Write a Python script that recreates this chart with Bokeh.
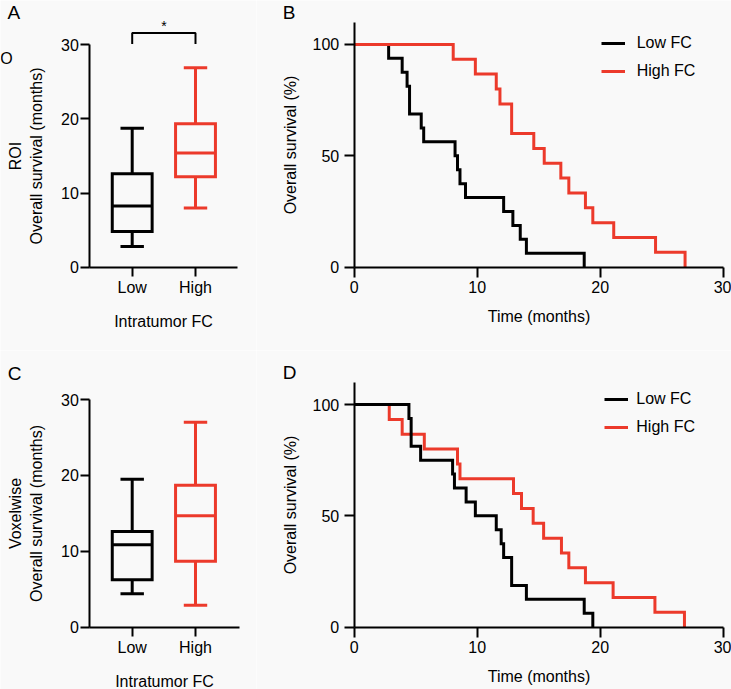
from bokeh.plotting import figure
from bokeh.models import Range1d, FixedTicker, Label, Legend, LegendItem
from bokeh.layouts import row, column
from bokeh.embed import file_html
from bokeh.resources import INLINE

FONT = "Liberation Sans"
BG = "#F9F9F9"
RED = "#EC3A2B"
BLACK = "#000000"

# ---------------- Box plot data (months) ----------------
groups = ["Low", "High"]
group_pos = [1, 2]
roi_min = [2.8, 8.0]
roi_q1 = [4.8, 12.2]
roi_median = [8.25, 15.4]
roi_q3 = [12.6, 19.35]
roi_max = [18.75, 26.9]

vox_min = [4.4, 2.9]
vox_q1 = [6.25, 8.7]
vox_median = [10.85, 14.7]
vox_q3 = [12.6, 18.7]
vox_max = [19.5, 27.0]
box_yticks = [0, 10, 20, 30]

# ---------------- Kaplan-Meier data ----------------
roi_low_time = [0, 2.8, 3.9, 4.3, 4.5, 5.45, 5.65, 8.2, 8.4, 8.6, 9.05, 12.15, 12.9, 13.5, 14.0, 18.7]
roi_low_surv = [100, 93.75, 87.5, 81.25, 68.75, 62.5, 56.25, 50, 43.75, 37.5, 31.25, 25, 18.75, 12.5, 6.25, 0]
roi_high_time = [0, 8.05, 9.85, 11.55, 11.85, 12.8, 14.6, 15.45, 16.8, 17.45, 18.8, 19.4, 21.1, 24.5, 26.9]
roi_high_surv = [100, 93.3, 86.7, 80, 73.3, 60, 53.3, 46.7, 40, 33.3, 26.7, 20, 13.3, 6.7, 0]

vox_low_time = [0, 4.45, 4.63, 5.4, 8.0, 8.15, 9.1, 9.85, 11.55, 11.95, 12.15, 12.8, 14.0, 18.7, 19.4]
vox_low_surv = [100, 93.75, 81.25, 75, 68.75, 62.5, 56.25, 50, 43.75, 37.5, 31.25, 18.75, 12.5, 6.25, 0]
vox_high_time = [0, 2.85, 3.9, 5.7, 8.4, 8.6, 12.95, 13.6, 14.55, 15.4, 16.85, 17.45, 18.8, 21.05, 24.45, 26.85]
vox_high_surv = [100, 93.3, 86.7, 80, 73.3, 66.7, 60, 53.3, 46.7, 40, 33.3, 26.7, 20, 13.3, 6.7, 0]

km_xticks = [0, 10, 20, 30]
km_yticks = [0, 50, 100]
legend_labels = ["Low FC", "High FC"]


def style(p, xlabel, ylabel, tick_out, xstand, ystand, xlab_stand, ylab_stand):
    p.background_fill_color = BG
    p.border_fill_color = BG
    p.outline_line_color = None
    p.xgrid.visible = False
    p.ygrid.visible = False
    for ax in (p.xaxis[0], p.yaxis[0]):
        ax.axis_line_width = 2
        ax.axis_line_color = BLACK
        ax.major_tick_line_width = 2
        ax.major_tick_line_color = BLACK
        ax.major_tick_out = tick_out
        ax.major_tick_in = 0
        ax.minor_tick_line_color = None
        ax.major_label_text_font = FONT
        ax.major_label_text_font_size = "16px"
        ax.major_label_text_color = BLACK
        ax.axis_label_text_font = FONT
        ax.axis_label_text_font_size = "16px"
        ax.axis_label_text_font_style = "normal"
        ax.axis_label_text_color = BLACK
    p.xaxis.axis_label = xlabel
    p.yaxis.axis_label = ylabel
    p.xaxis.major_label_standoff = xstand
    p.yaxis.major_label_standoff = ystand
    p.xaxis.axis_label_standoff = xlab_stand
    p.yaxis.axis_label_standoff = ylab_stand


def panel_label(p, text, x, y, size="19px"):
    p.add_layout(Label(x=x, y=y, x_units="screen", y_units="screen", text=text,
                       text_font=FONT, text_font_size=size, text_color=BLACK,
                       text_align="center", text_baseline="middle"))


def box_panel(ylabel, q_min, q1, med, q3, q_max, width, height, xr, yr, x_axis_end):
    p = figure(width=width, height=height, x_range=Range1d(*xr), y_range=Range1d(*yr),
               output_backend="svg", toolbar_location=None, min_border=0)
    style(p, "Intratumor FC", ylabel, 9, 3, 2, 13, 13)
    x_axis_start = 0.33
    p.xaxis.fixed_location = 0
    p.yaxis.fixed_location = x_axis_start
    p.xaxis.bounds = (x_axis_start, x_axis_end)
    p.yaxis.bounds = (0, 30)
    p.xaxis.ticker = FixedTicker(ticks=group_pos)
    p.xaxis.major_label_overrides = {g: name for g, name in zip(group_pos, groups)}
    p.yaxis.ticker = FixedTicker(ticks=box_yticks)
    colors = [BLACK, RED]
    hw, cw = 0.315, 0.185
    left = [x - hw for x in group_pos]
    right = [x + hw for x in group_pos]
    cl = [x - cw for x in group_pos]
    cr = [x + cw for x in group_pos]
    p.segment(x0=group_pos, x1=group_pos, y0=q3, y1=q_max, line_color=colors, line_width=3)
    p.segment(x0=group_pos, x1=group_pos, y0=q_min, y1=q1, line_color=colors, line_width=3)
    p.segment(x0=cl, x1=cr, y0=q_max, y1=q_max, line_color=colors, line_width=3)
    p.segment(x0=cl, x1=cr, y0=q_min, y1=q_min, line_color=colors, line_width=3)
    p.quad(left=left, right=right, bottom=q1, top=q3, fill_color=None,
           line_color=colors, line_width=3, line_join="miter")
    p.segment(x0=left, x1=right, y0=med, y1=med, line_color=colors, line_width=3)
    return p


def km_panel(low_t, low_s, high_t, high_s, width, height, xr, yr, red_on_top, leg_loc, leg_standoff):
    p = figure(width=width, height=height, x_range=Range1d(*xr), y_range=Range1d(*yr),
               output_backend="svg", toolbar_location=None, min_border=0)
    style(p, "Time (months)", "Overall survival (%)", 10, 4, 5, 11, 11)
    p.xaxis.fixed_location = 0
    p.yaxis.fixed_location = 0
    p.xaxis.bounds = (0, 30)
    p.yaxis.bounds = (0, 110)
    p.xaxis.ticker = FixedTicker(ticks=km_xticks)
    p.yaxis.ticker = FixedTicker(ticks=km_yticks)
    if red_on_top:
        r_low = p.step(low_t, low_s, mode="after", line_color=BLACK, line_width=3, line_join="miter")
        r_high = p.step(high_t, high_s, mode="after", line_color=RED, line_width=3, line_join="miter")
    else:
        r_high = p.step(high_t, high_s, mode="after", line_color=RED, line_width=3, line_join="miter")
        r_low = p.step(low_t, low_s, mode="after", line_color=BLACK, line_width=3, line_join="miter")
    legend = Legend(items=[LegendItem(label=legend_labels[0], renderers=[r_low]),
                           LegendItem(label=legend_labels[1], renderers=[r_high])],
                    location=leg_loc, padding=0, margin=0, spacing=8,
                    glyph_width=24, glyph_height=20, label_height=20,
                    label_standoff=leg_standoff, border_line_color=None,
                    background_fill_alpha=0, label_text_font=FONT,
                    label_text_font_size="16px", label_text_color=BLACK)
    p.add_layout(legend)
    return p


# Panel A (ROI box plot)
pA = box_panel("ROI\nOverall survival (months)", roi_min, roi_q1, roi_median, roi_q3, roi_max,
               256, 350, (-1.0806, 2.9637), (-11.237, 35.976), 2.67)
pA.line(x=[group_pos[0], group_pos[0], group_pos[1], group_pos[1]],
        y=[30.1, 31.6, 31.6, 30.1], line_color=BLACK, line_width=2)
pA.text(x=[1.5], y=[32.5], text=["*"], text_font={"value": FONT}, text_font_size="14px",
        text_align="center", text_baseline="middle", text_color=BLACK)
panel_label(pA, "A", 13.3, 338)
panel_label(pA, "O", 6, 292, "16px")

# Panel B (ROI KM)
pB = km_panel(roi_low_time, roi_low_surv, roi_high_time, roi_high_surv,
              475, 350, (-7.943, 30.675), (-37.39, 119.70), True, (344.7, 268.7), 12)
panel_label(pB, "B", 32.7, 338.3)

# Panel C (Voxelwise box plot)
pC = box_panel("Voxelwise\nOverall survival (months)", vox_min, vox_q1, vox_median, vox_q3, vox_max,
               256, 339, (-1.0806, 2.9637), (-8.208, 36.456), 2.70)
panel_label(pC, "C", 14, 316.5)

# Panel D (Voxelwise KM)
pD = km_panel(vox_low_time, vox_low_surv, vox_high_time, vox_high_surv,
              475, 339, (-7.943, 30.675), (-27.97, 124.25), False, (348.3, 251.7), 8)
panel_label(pD, "D", 33, 317.3)

layout = column(row(pA, pB), row(pC, pD))
open("out.html", "w").write(file_html(layout, INLINE))
